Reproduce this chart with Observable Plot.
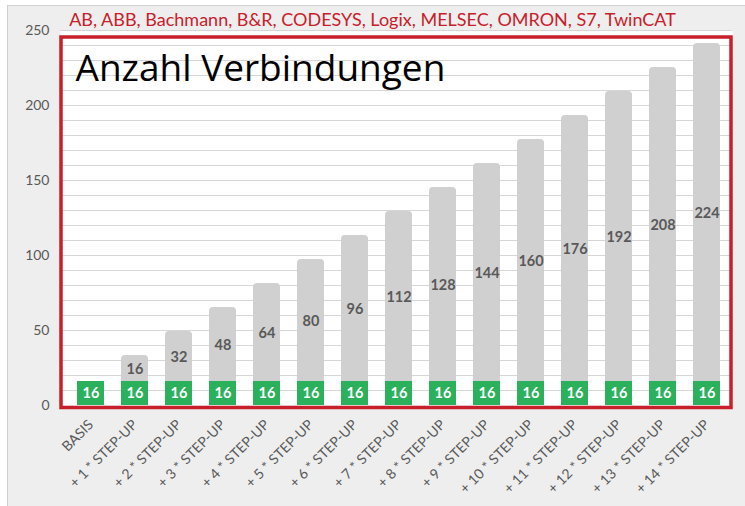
<!DOCTYPE html>
<html>
<head>
<meta charset="utf-8">
<script src="https://cdn.jsdelivr.net/npm/d3@7"></script>
<script src="https://cdn.jsdelivr.net/npm/@observablehq/plot@0.6"></script>
<style>
  html, body { margin: 0; padding: 0; background: #ffffff; }
  #wrap { position: relative; width: 745px; height: 506px; overflow: hidden; }
  #box { position: absolute; left: 7px; top: 5px; width: 760px; height: 520px;
         background: #eeeeee; border-left: 1px solid #d0d0d0; border-top: 1px solid #d0d0d0; }
  #chart { position: absolute; left: 0; top: 0; }
</style>
</head>
<body>
<div id="wrap"><div id="box"></div><div id="chart"></div></div>
<script>
const categories = ["BASIS", "+ 1 * STEP-UP", "+ 2 * STEP-UP", "+ 3 * STEP-UP", "+ 4 * STEP-UP",
  "+ 5 * STEP-UP", "+ 6 * STEP-UP", "+ 7 * STEP-UP", "+ 8 * STEP-UP", "+ 9 * STEP-UP",
  "+ 10 * STEP-UP", "+ 11 * STEP-UP", "+ 12 * STEP-UP", "+ 13 * STEP-UP", "+ 14 * STEP-UP"];
const basis = [16, 16, 16, 16, 16, 16, 16, 16, 16, 16, 16, 16, 16, 16, 16];
const stepUp = [0, 16, 32, 48, 64, 80, 96, 112, 128, 144, 160, 176, 192, 208, 224];
const yTicks = [0, 50, 100, 150, 200, 250];
const gridValues = [10, 20, 30, 40, 50, 60, 70, 80, 90, 100, 110, 120, 130, 140, 150, 160, 170, 180, 190, 200, 210, 220, 230, 240, 250];
const titleText = "Anzahl Verbindungen";
const subtitleText = "AB, ABB, Bachmann, B&R, CODESYS, Logix, MELSEC, OMRON, S7, TwinCAT";

const rows = categories.map((c, i) => ({cat: c, basis: basis[i], step: stepUp[i]}));
const stepRows = rows.filter(d => d.step > 0);

const FONT = "Lato, 'Open Sans', sans-serif";

const chart = Plot.plot({
  width: 745,
  height: 506,
  marginLeft: 60,
  marginRight: 13,
  marginTop: 30,
  marginBottom: 101,
  style: {background: "transparent", fontFamily: FONT, overflow: "visible"},
  x: {domain: categories, range: [62, 734], paddingInner: 0.396, paddingOuter: 0.215, label: null},
  y: {domain: [0, 250], label: null},
  marks: [
    Plot.frame({fill: "white", stroke: null}),
    Plot.ruleY(gridValues, {stroke: "#d6d6d6", strokeWidth: 1.2}),
    Plot.barY(stepRows, {x: "cat", y1: 0, y2: d => d.basis + d.step, fill: "#d0d0d0", rx: 4, insetTop: -2}),
    Plot.barY(rows, {x: "cat", y: "basis", fill: "#2bb15b"}),
    Plot.text(rows, {x: "cat", y: d => d.basis / 2, text: d => String(d.basis), fill: "white",
      fontWeight: "bold", fontSize: 14.5}),
    Plot.text(stepRows, {x: "cat", y: d => d.basis + d.step / 2, text: d => String(d.step),
      fill: "#595959", fontWeight: "bold", fontSize: 14.5}),
    Plot.frame({stroke: "#c8202a", strokeWidth: 3.5, insetTop: 6.5, insetBottom: -2, insetLeft: 0.5, insetRight: 1.5}),
    Plot.text([titleText], {frameAnchor: "top-left", dx: 15, dy: 24, text: d => d, fontSize: 37,
      fontFamily: "'Open Sans', sans-serif", fill: "#000000", textAnchor: "start", lineAnchor: "top"}),
    Plot.text([subtitleText], {frameAnchor: "top", dx: -24, dy: -17, text: d => d, fontSize: 18,
      fill: "#c8202a", lineAnchor: "top"}),
    Plot.axisY({ticks: yTicks, tickSize: 0, tickPadding: 11, fontSize: 14, fill: "#595959"}),
    Plot.axisX({tickRotate: -45, tickSize: 0, tickPadding: 17, fontSize: 14, fill: "#595959"})
  ]
});
document.getElementById("chart").appendChild(chart);
</script>
</body>
</html>
